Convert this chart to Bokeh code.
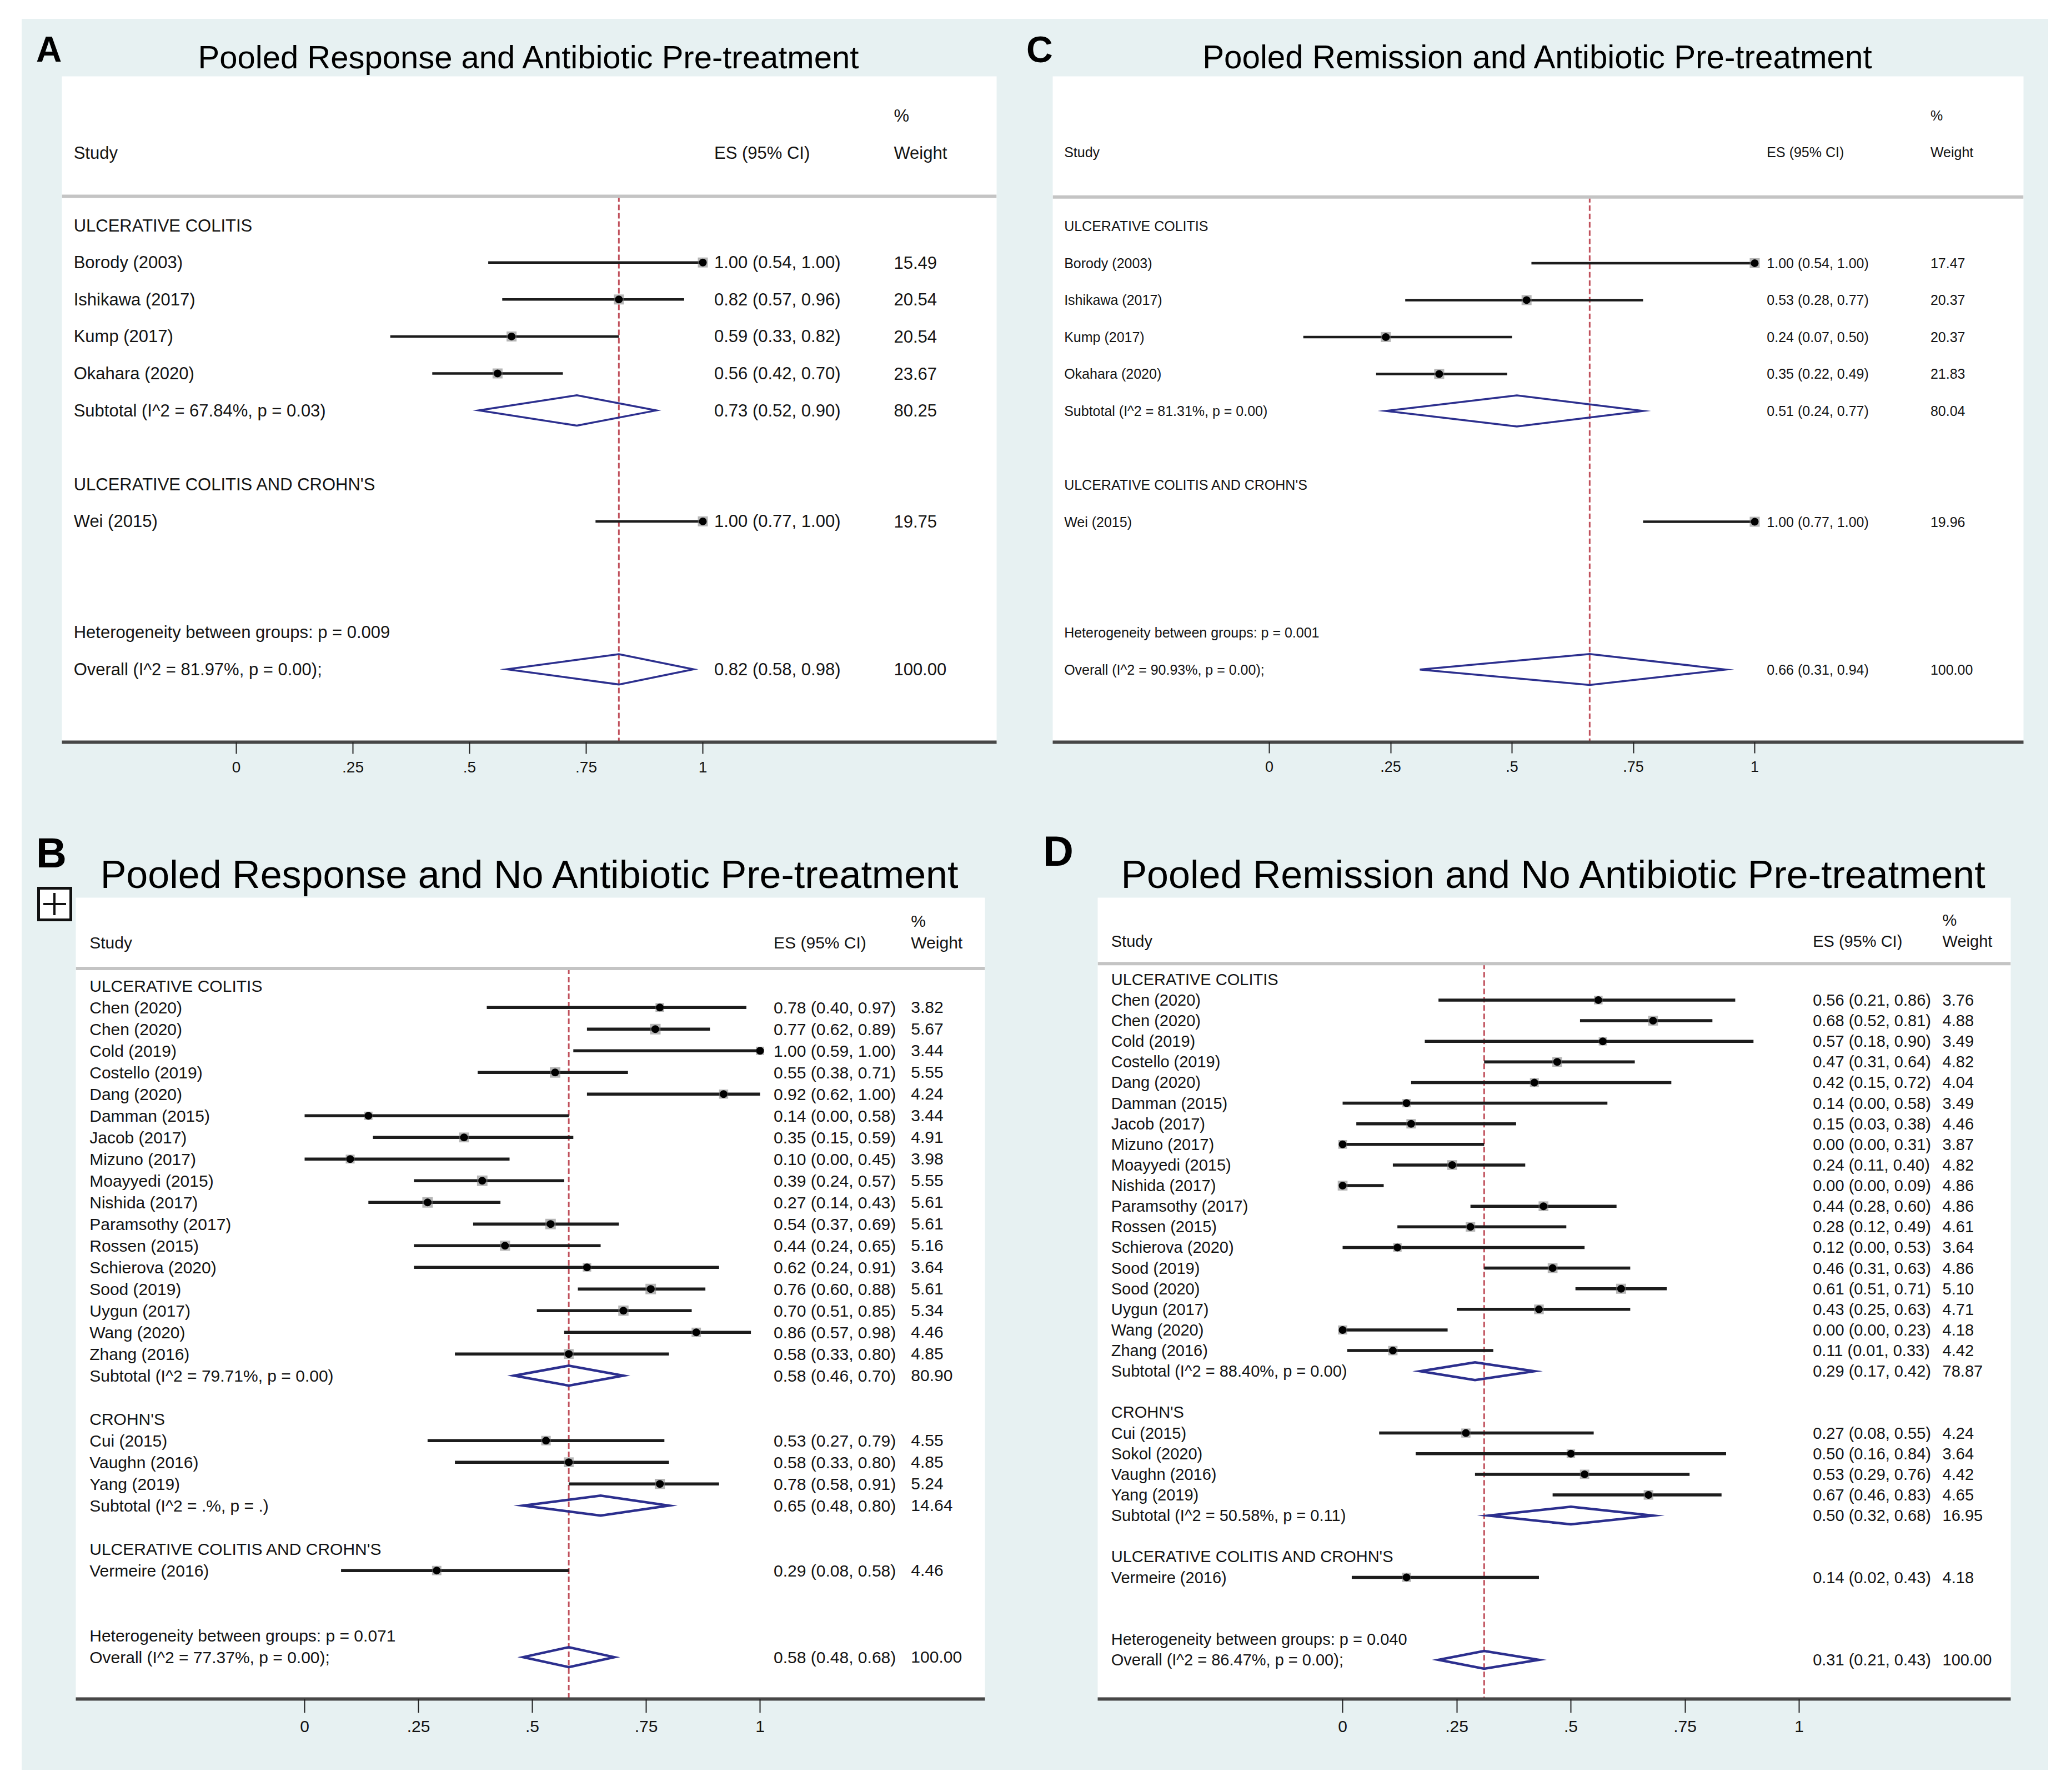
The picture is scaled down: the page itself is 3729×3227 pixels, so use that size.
from bokeh.plotting import figure
from bokeh.models import Range1d, FixedTicker, Span, ColumnDataSource, Spacer, Div
from bokeh.layouts import row, column
from bokeh.embed import file_html
from bokeh.resources import INLINE
from bokeh.core.properties import value

# ---------------------------------------------------------------- data
TICKS = [0, 0.25, 0.5, 0.75, 1]
TICK_LABELS = ["0", ".25", ".5", ".75", "1"]
HEAD_STUDY = "Study"
HEAD_ES = "ES (95% CI)"
HEAD_PCT = "%"
HEAD_WT = "Weight"

# Panel A
A_title = "Pooled Response and Antibiotic Pre-treatment"
A_group = ["ULCERATIVE COLITIS"] * 4 + ["ULCERATIVE COLITIS AND CROHN'S"]
A_study = ["Borody (2003)", "Ishikawa (2017)", "Kump (2017)", "Okahara (2020)", "Wei (2015)"]
A_es = [1.00, 0.82, 0.59, 0.56, 1.00]
A_lo = [0.54, 0.57, 0.33, 0.42, 0.77]
A_hi = [1.00, 0.96, 0.82, 0.70, 1.00]
A_wt = [15.49, 20.54, 20.54, 23.67, 19.75]
A_sub_group = ["ULCERATIVE COLITIS"]
A_sub_label = ["Subtotal  (I^2 = 67.84%, p = 0.03)"]
A_sub_es = [0.73]
A_sub_lo = [0.52]
A_sub_hi = [0.90]
A_sub_wt = [80.25]
A_het = "Heterogeneity between groups: p = 0.009"
A_ov_label = "Overall  (I^2 = 81.97%, p = 0.00);"
A_ov = [0.82, 0.58, 0.98, 100.00]

# Panel C
C_title = "Pooled Remission and Antibiotic Pre-treatment"
C_group = ["ULCERATIVE COLITIS"] * 4 + ["ULCERATIVE COLITIS AND CROHN'S"]
C_study = ["Borody (2003)", "Ishikawa (2017)", "Kump (2017)", "Okahara (2020)", "Wei (2015)"]
C_es = [1.00, 0.53, 0.24, 0.35, 1.00]
C_lo = [0.54, 0.28, 0.07, 0.22, 0.77]
C_hi = [1.00, 0.77, 0.50, 0.49, 1.00]
C_wt = [17.47, 20.37, 20.37, 21.83, 19.96]
C_sub_group = ["ULCERATIVE COLITIS"]
C_sub_label = ["Subtotal  (I^2 = 81.31%, p = 0.00)"]
C_sub_es = [0.51]
C_sub_lo = [0.24]
C_sub_hi = [0.77]
C_sub_wt = [80.04]
C_het = "Heterogeneity between groups: p = 0.001"
C_ov_label = "Overall  (I^2 = 90.93%, p = 0.00);"
C_ov = [0.66, 0.31, 0.94, 100.00]

# Panel B
B_title = "Pooled Response and No Antibiotic Pre-treatment"
B_group = ["ULCERATIVE COLITIS"] * 17 + ["CROHN'S"] * 3 + ["ULCERATIVE COLITIS AND CROHN'S"]
B_study = ["Chen (2020)", "Chen (2020)", "Cold (2019)", "Costello (2019)", "Dang (2020)",
           "Damman (2015)", "Jacob (2017)", "Mizuno (2017)", "Moayyedi (2015)", "Nishida (2017)",
           "Paramsothy (2017)", "Rossen (2015)", "Schierova (2020)", "Sood (2019)", "Uygun (2017)",
           "Wang (2020)", "Zhang (2016)",
           "Cui (2015)", "Vaughn (2016)", "Yang (2019)",
           "Vermeire (2016)"]
B_es = [0.78, 0.77, 1.00, 0.55, 0.92, 0.14, 0.35, 0.10, 0.39, 0.27, 0.54, 0.44, 0.62, 0.76, 0.70,
        0.86, 0.58, 0.53, 0.58, 0.78, 0.29]
B_lo = [0.40, 0.62, 0.59, 0.38, 0.62, 0.00, 0.15, 0.00, 0.24, 0.14, 0.37, 0.24, 0.24, 0.60, 0.51,
        0.57, 0.33, 0.27, 0.33, 0.58, 0.08]
B_hi = [0.97, 0.89, 1.00, 0.71, 1.00, 0.58, 0.59, 0.45, 0.57, 0.43, 0.69, 0.65, 0.91, 0.88, 0.85,
        0.98, 0.80, 0.79, 0.80, 0.91, 0.58]
B_wt = [3.82, 5.67, 3.44, 5.55, 4.24, 3.44, 4.91, 3.98, 5.55, 5.61, 5.61, 5.16, 3.64, 5.61, 5.34,
        4.46, 4.85, 4.55, 4.85, 5.24, 4.46]
B_sub_group = ["ULCERATIVE COLITIS", "CROHN'S"]
B_sub_label = ["Subtotal  (I^2 = 79.71%, p = 0.00)", "Subtotal  (I^2 = .%, p = .)"]
B_sub_es = [0.58, 0.65]
B_sub_lo = [0.46, 0.48]
B_sub_hi = [0.70, 0.80]
B_sub_wt = [80.90, 14.64]
B_het = "Heterogeneity between groups: p = 0.071"
B_ov_label = "Overall  (I^2 = 77.37%, p = 0.00);"
B_ov = [0.58, 0.48, 0.68, 100.00]

# Panel D
D_title = "Pooled Remission and No Antibiotic Pre-treatment"
D_group = ["ULCERATIVE COLITIS"] * 18 + ["CROHN'S"] * 4 + ["ULCERATIVE COLITIS AND CROHN'S"]
D_study = ["Chen (2020)", "Chen (2020)", "Cold (2019)", "Costello (2019)", "Dang (2020)",
           "Damman (2015)", "Jacob (2017)", "Mizuno (2017)", "Moayyedi (2015)", "Nishida (2017)",
           "Paramsothy (2017)", "Rossen (2015)", "Schierova (2020)", "Sood (2019)", "Sood (2020)",
           "Uygun (2017)", "Wang (2020)", "Zhang (2016)",
           "Cui (2015)", "Sokol (2020)", "Vaughn (2016)", "Yang (2019)",
           "Vermeire (2016)"]
D_es = [0.56, 0.68, 0.57, 0.47, 0.42, 0.14, 0.15, 0.00, 0.24, 0.00, 0.44, 0.28, 0.12, 0.46, 0.61,
        0.43, 0.00, 0.11, 0.27, 0.50, 0.53, 0.67, 0.14]
D_lo = [0.21, 0.52, 0.18, 0.31, 0.15, 0.00, 0.03, 0.00, 0.11, 0.00, 0.28, 0.12, 0.00, 0.31, 0.51,
        0.25, 0.00, 0.01, 0.08, 0.16, 0.29, 0.46, 0.02]
D_hi = [0.86, 0.81, 0.90, 0.64, 0.72, 0.58, 0.38, 0.31, 0.40, 0.09, 0.60, 0.49, 0.53, 0.63, 0.71,
        0.63, 0.23, 0.33, 0.55, 0.84, 0.76, 0.83, 0.43]
D_wt = [3.76, 4.88, 3.49, 4.82, 4.04, 3.49, 4.46, 3.87, 4.82, 4.86, 4.86, 4.61, 3.64, 4.86, 5.10,
        4.71, 4.18, 4.42, 4.24, 3.64, 4.42, 4.65, 4.18]
D_sub_group = ["ULCERATIVE COLITIS", "CROHN'S"]
D_sub_label = ["Subtotal  (I^2 = 88.40%, p = 0.00)", "Subtotal  (I^2 = 50.58%, p = 0.11)"]
D_sub_es = [0.29, 0.50]
D_sub_lo = [0.17, 0.32]
D_sub_hi = [0.42, 0.68]
D_sub_wt = [78.87, 16.95]
D_het = "Heterogeneity between groups: p = 0.040"
D_ov_label = "Overall  (I^2 = 86.47%, p = 0.00);"
D_ov = [0.31, 0.21, 0.43, 100.00]

# ---------------------------------------------------------------- styling
BG = "#e7f1f2"
FONT = "Liberation Sans"
TXT = "#141414"
CI_COLOR = "#1c1c1c"
DIAMOND = "#2c2f8e"
REDLINE = "#c0505c"

# layout geometry per panel (pixels)
CFG = {
    "A": dict(W=1805, H=1435, L=72, R=50, T=103, B=133, zero=314, unit=840, row0=268.6, rowpx=66.6,
              xs=-0.3486, xes=1.0244, xw=1.4094, fs=31, head_study=-1.96, head_pct=-2.96, sep=-0.79,
              title_fs=58, letter_fs=64, letter_x=26, letter_base=77,
              ci_w=4.5, box=18, dot=14, dia_w=3.5, dia_h=0.41, tick_fs=28, tick_out=21),
    "C": dict(W=1844, H=1435, L=51, R=45, T=103, B=128, zero=390, unit=874, row0=271, rowpx=66.8,
              xs=-0.4226, xes=1.025, xw=1.362, fs=25, head_study=-2.0, head_pct=-3.0, sep=-0.79,
              title_fs=58.3, letter_fs=66, letter_x=4, letter_base=78,
              ci_w=4.5, box=18, dot=14, dia_w=3.5, dia_h=0.42, tick_fs=27, tick_out=20),
    "B": dict(W=1805, H=1718, L=97, R=71, T=145, B=128, zero=412, unit=820, row0=159, rowpx=39.05,
              xs=-0.4723, xes=1.030, xw=1.3315, fs=30, head_study=-2.0, head_pct=-3.0, sep=-0.8,
              title_fs=70, letter_fs=76, letter_x=26, letter_base=93,
              ci_w=5.5, box=None, dot=14, dia_w=4.5, dia_h=0.46, tick_fs=30, tick_out=25),
    "D": dict(W=1844, H=1718, L=132, R=68, T=147, B=126, zero=441, unit=822, row0=147.5, rowpx=37.18,
              xs=-0.507, xes=1.030, xw=1.314, fs=29, head_study=-1.85, head_pct=-2.88, sep=-0.77,
              title_fs=70, letter_fs=76, letter_x=34, letter_base=90,
              ci_w=5.5, box=None, dot=14, dia_w=4.5, dia_h=0.43, tick_fs=30, tick_out=25),
}


def letter_div(key, plus_icon=False):
    c = CFG[key]
    w, h = c["L"], c["H"]
    top = c["letter_base"] - 0.8465 * c["letter_fs"]
    html = f'<div style="position:relative;width:{w}px;height:{h}px;overflow:visible;">'
    html += (f'<span style="position:absolute;left:{c["letter_x"]}px;top:{top:.1f}px;'
             f"font-family:'{FONT}',sans-serif;font-weight:bold;font-size:{c['letter_fs']}px;"
             f'line-height:1;color:black;">{key}</span>')
    if plus_icon:
        html += ('<div style="position:absolute;box-sizing:border-box;left:28px;top:128px;'
                 'width:63px;height:62px;border:5px solid #111;background:white;"></div>'
                 '<div style="position:absolute;box-sizing:border-box;left:39px;top:157px;'
                 'width:41px;height:4px;background:#111;"></div>'
                 '<div style="position:absolute;box-sizing:border-box;left:57px;top:139px;'
                 'width:4px;height:40px;background:#111;"></div>')
    html += '</div>'
    return Div(text=html, width=w, height=h, margin=0, styles={"background-color": BG})


def make_panel(key, title, group, study, es, lo, hi, wt, sub_group, sub_label, sub_es, sub_lo,
               sub_hi, sub_wt, het, ov_label, ov):
    c = CFG[key]
    fw = c["W"] - c["L"] - c["R"]
    fh = c["H"] - c["T"] - c["B"]
    x0 = -c["zero"] / c["unit"]
    x1 = x0 + fw / c["unit"]
    ytop = -c["row0"] / c["rowpx"]
    ybot = ytop + fh / c["rowpx"]

    p = figure(width=c["W"] - c["L"], height=c["H"], x_range=Range1d(x0, x1),
               y_range=Range1d(ybot, ytop),
               output_backend="svg", toolbar_location=None, y_axis_location=None,
               min_border_left=0, min_border_right=c["R"], min_border_top=c["T"],
               min_border_bottom=c["B"], background_fill_color="white", border_fill_color=BG,
               outline_line_color=None)
    p.xgrid.visible = False
    p.ygrid.visible = False

    # row layout (Stata metan style)
    order = []
    for g in group:
        if g not in order:
            order.append(g)
    txt_x, txt_y, txt_s = [], [], []
    st_y, st_es, st_lo, st_hi, st_wt = [], [], [], [], []
    sb_y, sb_es, sb_lo, sb_hi, sb_wt = [], [], [], [], []
    r = 0
    for g in order:
        txt_x.append(c["xs"]); txt_y.append(r); txt_s.append(g)
        r += 1
        for i, gg in enumerate(group):
            if gg != g:
                continue
            txt_x.append(c["xs"]); txt_y.append(r); txt_s.append(study[i])
            st_y.append(r); st_es.append(es[i]); st_lo.append(lo[i]); st_hi.append(hi[i]); st_wt.append(wt[i])
            r += 1
        if g in sub_group:
            j = sub_group.index(g)
            txt_x.append(c["xs"]); txt_y.append(r); txt_s.append(sub_label[j])
            sb_y.append(r); sb_es.append(sub_es[j]); sb_lo.append(sub_lo[j]); sb_hi.append(sub_hi[j]); sb_wt.append(sub_wt[j])
        r += 2
    txt_x.append(c["xs"]); txt_y.append(r); txt_s.append(het)
    r += 1
    txt_x.append(c["xs"]); txt_y.append(r); txt_s.append(ov_label)
    sb_y.append(r); sb_es.append(ov[0]); sb_lo.append(ov[1]); sb_hi.append(ov[2]); sb_wt.append(ov[3])

    # ES and weight columns
    for yy, e, l, h, w in zip(st_y + sb_y, st_es + sb_es, st_lo + sb_lo, st_hi + sb_hi, st_wt + sb_wt):
        txt_x.append(c["xes"]); txt_y.append(yy); txt_s.append(f"{e:.2f} ({l:.2f}, {h:.2f})")
        txt_x.append(c["xw"]); txt_y.append(yy); txt_s.append(f"{w:.2f}")

    # headers
    txt_x += [c["xs"], c["xes"], c["xw"], c["xw"]]
    txt_y += [c["head_study"], c["head_study"], c["head_pct"], c["head_study"]]
    txt_s += [HEAD_STUDY, HEAD_ES, HEAD_PCT, HEAD_WT]

    # header separator
    p.add_layout(Span(location=c["sep"], dimension="width", line_color="#c4c4c4", line_width=6))

    # overall reference line
    p.segment(x0=[ov[0]], x1=[ov[0]], y0=[c["sep"]], y1=[ybot], line_color=REDLINE,
              line_width=3, line_dash="10 5")

    # study CIs and markers (weight boxes + point estimates)
    boxes = [c["box"] if c["box"] else 8.0 * (w ** 0.5) for w in st_wt]
    src = ColumnDataSource(dict(y=st_y, es=st_es, lo=st_lo, hi=st_hi, box=boxes))
    p.segment(x0="lo", x1="hi", y0="y", y1="y", source=src, line_color=CI_COLOR, line_width=c["ci_w"])
    p.scatter(x="es", y="y", size="box", marker="square", source=src, fill_color="#7a7a7a",
              fill_alpha=0.55, line_color=None)
    p.scatter(x="es", y="y", size=c["dot"], marker="circle", source=src, fill_color="black",
              line_color=None)

    # pooled diamonds
    hh = c["dia_h"]
    dsrc = ColumnDataSource(dict(
        xs=[[l, e, h, e] for e, l, h in zip(sb_es, sb_lo, sb_hi)],
        ys=[[yy, yy - hh, yy, yy + hh] for yy in sb_y]))
    p.patches(xs="xs", ys="ys", source=dsrc, fill_alpha=0, line_color=DIAMOND, line_width=c["dia_w"],
              line_join="miter")

    # texts
    p.text(x=txt_x, y=txt_y, text=txt_s, text_font=value(FONT), text_font_size=value(f"{c['fs']}px"),
           text_baseline="middle", text_align="left", text_color=TXT)

    # axis
    ax = p.xaxis[0]
    ax.ticker = FixedTicker(ticks=TICKS)
    ax.major_label_overrides = dict(zip(TICKS, TICK_LABELS))
    ax.axis_line_width = 6
    ax.axis_line_color = "#474747"
    ax.major_tick_line_width = 2
    ax.major_tick_line_color = "#222222"
    ax.major_tick_out = c["tick_out"]
    ax.major_tick_in = 0
    ax.minor_tick_out = 0
    ax.minor_tick_in = 0
    ax.major_label_standoff = 14
    ax.major_label_text_font = FONT
    ax.major_label_text_font_size = f"{c['tick_fs']}px"
    ax.major_label_text_color = TXT

    # title
    p.title.text = title
    p.title.align = "center"
    p.title.text_font = FONT
    p.title.text_font_style = "normal"
    p.title.text_font_size = f"{c['title_fs']}px"
    p.title.text_color = "black"
    p.title.standoff = 6
    return p


pA = make_panel("A", A_title, A_group, A_study, A_es, A_lo, A_hi, A_wt, A_sub_group, A_sub_label,
                A_sub_es, A_sub_lo, A_sub_hi, A_sub_wt, A_het, A_ov_label, A_ov)
pC = make_panel("C", C_title, C_group, C_study, C_es, C_lo, C_hi, C_wt, C_sub_group, C_sub_label,
                C_sub_es, C_sub_lo, C_sub_hi, C_sub_wt, C_het, C_ov_label, C_ov)
pB = make_panel("B", B_title, B_group, B_study, B_es, B_lo, B_hi, B_wt, B_sub_group, B_sub_label,
                B_sub_es, B_sub_lo, B_sub_hi, B_sub_wt, B_het, B_ov_label, B_ov)
pD = make_panel("D", D_title, D_group, D_study, D_es, D_lo, D_hi, D_wt, D_sub_group, D_sub_label,
                D_sub_es, D_sub_lo, D_sub_hi, D_sub_wt, D_het, D_ov_label, D_ov)

top_row = row(letter_div("A"), pA, letter_div("C"), pC, styles={"background-color": BG})
bot_row = row(letter_div("B", plus_icon=True), pB, letter_div("D"), pD,
              styles={"background-color": BG})
grid = column(top_row, bot_row, styles={"background-color": BG})
page = column(Spacer(width=1, height=34), row(Spacer(width=39, height=1), grid))

open("out.html", "w").write(file_html(page, INLINE))
